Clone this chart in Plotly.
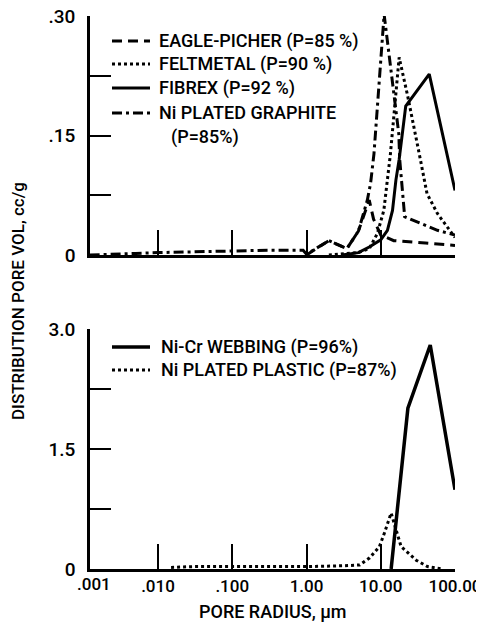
import plotly.graph_objects as go

# ---------------- data ----------------
# Top panel: distribution pore volume, cc/g vs pore radius (um)
eagle_x = [1.0, 2.0, 3.5, 5.0, 7.0, 8.0, 10.0, 15.0, 40.0, 100.0]
eagle_y = [0.0, 0.018, 0.008, 0.030, 0.069, 0.045, 0.025, 0.018, 0.015, 0.012]

felt_x = [2.0, 5.0, 7.0, 9.0, 11.0, 13.5, 17.7, 23.0, 33.0, 42.0, 58.0, 84.0, 100.0]
felt_y = [0.0, 0.003, 0.008, 0.027, 0.056, 0.127, 0.248, 0.200, 0.127, 0.077, 0.052, 0.031, 0.022]

fibrex_x = [3.0, 5.0, 7.0, 10.0, 12.3, 14.4, 16.0, 17.7, 21.7, 45.0, 100.0]
fibrex_y = [0.0, 0.003, 0.010, 0.019, 0.031, 0.056, 0.094, 0.120, 0.187, 0.227, 0.081]

graph_x = [0.0012, 0.002, 0.005, 0.01, 0.03, 0.1, 0.3, 0.9, 1.0, 2.0, 3.5, 5.0, 6.6, 7.3, 8.1,
           11.1, 17.5, 18.0, 21.0, 58.0, 100.0]
graph_y = [0.0, 0.001, 0.002, 0.003, 0.004, 0.005, 0.006, 0.006, 0.001, 0.018, 0.008, 0.030,
           0.069, 0.090, 0.127, 0.302, 0.152, 0.120, 0.048, 0.031, 0.025]

# Bottom panel
nicr_x = [13.8, 23.2, 46.4, 100.0]
nicr_y = [0.0, 2.01, 2.80, 0.99]

plastic_x = [0.015, 0.03, 0.1, 0.3, 1.0, 3.0, 5.2, 7.1, 9.6, 11.2, 13.8, 16.1, 18.8, 30.0, 42.6, 68.0]
plastic_y = [0.02, 0.03, 0.03, 0.03, 0.03, 0.04, 0.05, 0.14, 0.28, 0.45, 0.70, 0.49, 0.28, 0.11, 0.03, 0.0]

top_names = ["EAGLE-PICHER (P=85 %)", "FELTMETAL (P=90 %)", "FIBREX (P=92 %)",
             "Ni PLATED GRAPHITE", "(P=85%)"]
bot_names = ["Ni-Cr WEBBING (P=96%)", "Ni PLATED PLASTIC (P=87%)"]

x_tickvals = [0.01, 0.1, 1, 10, 100]
x_ticktext = [".010", ".100", "1.00", "10.00", "100.00"]
x_first_label = ".001"
top_tickvals = [0, 0.075, 0.15, 0.225, 0.30]
top_ticktext = ["0", "", ".15", "", ".30"]
bot_tickvals = [0, 0.75, 1.5, 2.25, 3.0]
bot_ticktext = ["0", "", "1.5", "", "3.0"]
x_title = "PORE RADIUS, \u00b5m"
y_title = "DISTRIBUTION PORE VOL, cc/g"

# ---------------- layout helpers ----------------
FONT = "Roboto, Liberation Sans, DejaVu Sans, sans-serif"
OFF = 8  # page body margin of the html page
W, H = 484 - OFF, 624 - OFF


def px(x):
    return (x - OFF) / W


def py(y):
    return 1 - (y - OFF) / H


styles = {
    "eagle": dict(color="black", width=3, dash="10px,6px"),
    "felt": dict(color="black", width=3, dash="3px,3px"),
    "fibrex": dict(color="black", width=3),
    "graph": dict(color="black", width=3, dash="10px,4px,3px,4px"),
    "nicr": dict(color="black", width=3.5),
    "plastic": dict(color="black", width=3, dash="3px,3px"),
}

fig = go.Figure()
fig.add_trace(go.Scatter(x=eagle_x, y=eagle_y, mode="lines", line=styles["eagle"], xaxis="x", yaxis="y"))
fig.add_trace(go.Scatter(x=felt_x, y=felt_y, mode="lines", line=styles["felt"], xaxis="x", yaxis="y"))
fig.add_trace(go.Scatter(x=fibrex_x, y=fibrex_y, mode="lines", line=styles["fibrex"], xaxis="x", yaxis="y"))
fig.add_trace(go.Scatter(x=graph_x, y=graph_y, mode="lines", line=styles["graph"], xaxis="x", yaxis="y"))
fig.add_trace(go.Scatter(x=nicr_x, y=nicr_y, mode="lines", line=styles["nicr"], xaxis="x2", yaxis="y2"))
fig.add_trace(go.Scatter(x=plastic_x, y=plastic_y, mode="lines", line=styles["plastic"], xaxis="x2", yaxis="y2"))

xlog0 = -2.916
x_common = dict(type="log", range=[xlog0, 2.0], domain=[px(90), px(455)], automargin=False,
                showline=True, linecolor="black", linewidth=2.5, ticklabeloverflow="allow",
                ticks="inside", ticklen=25, tickwidth=2, tickcolor="black",
                tickvals=x_tickvals, showgrid=False, zeroline=False)
y_common = dict(showline=True, linecolor="black", linewidth=2.5, automargin=False,
                ticklabeloverflow="allow",
                ticks="inside", ticklen=21, tickwidth=2, tickcolor="black",
                showgrid=False, zeroline=False, ticklabelstandoff=8,
                tickfont=dict(family=FONT, size=19, color="black", weight=500))

fig.update_layout(
    width=W, height=H, paper_bgcolor="white", plot_bgcolor="white",
    margin=dict(l=0, r=0, t=0, b=0, autoexpand=False),
    font=dict(family=FONT, color="black", size=18),
    showlegend=False,
    xaxis=dict(**x_common, anchor="y", showticklabels=False),
    yaxis=dict(**y_common, range=[0, 0.30], domain=[py(255), py(16)], anchor="x",
               tickvals=top_tickvals, ticktext=top_ticktext),
    xaxis2=dict(**x_common, anchor="y2", ticktext=x_ticktext, ticklabelstandoff=0,
                tickfont=dict(family=FONT, size=17, color="black", weight=500)),
    yaxis2=dict(**y_common, range=[0, 3.0], domain=[py(569), py(329)], anchor="x2",
                tickvals=bot_tickvals, ticktext=bot_ticktext),
)

# manual legends
leg_font = dict(family=FONT, size=18, color="black", weight=500)
top_rows = [41, 64, 88, 113]
for key, name, yy in zip(["eagle", "felt", "fibrex", "graph"], top_names[:4], top_rows):
    fig.add_shape(type="line", xref="paper", yref="paper", x0=px(112), x1=px(150), y0=py(yy), y1=py(yy),
                  line=styles[key])
    fig.add_annotation(text=name, xref="paper", yref="paper", x=px(157), y=py(yy), xanchor="left",
                       yanchor="middle", showarrow=False, font=leg_font)
fig.add_annotation(text=top_names[4], xref="paper", yref="paper", x=px(169), y=py(137), xanchor="left",
                   yanchor="middle", showarrow=False, font=leg_font)

bot_rows = [347, 370]
for key, name, yy in zip(["nicr", "plastic"], bot_names, bot_rows):
    fig.add_shape(type="line", xref="paper", yref="paper", x0=px(112), x1=px(150), y0=py(yy), y1=py(yy),
                  line=styles[key])
    fig.add_annotation(text=name, xref="paper", yref="paper", x=px(159), y=py(yy), xanchor="left",
                       yanchor="middle", showarrow=False, font=leg_font)

fig.add_annotation(text=x_first_label, xref="x2", yref="paper", x=xlog0, y=py(572),
                   xanchor="center", yanchor="top", xshift=4, showarrow=False,
                   font=dict(family=FONT, size=17, color="black", weight=500))
fig.add_annotation(text=x_title, xref="paper", yref="paper", x=px(273), y=py(611),
                   xanchor="center", yanchor="middle", showarrow=False,
                   font=dict(family=FONT, size=18, color="black", weight=500))
fig.add_annotation(text=y_title, xref="paper", yref="paper", x=px(18), y=py(301),
                   xanchor="center", yanchor="middle", textangle=-90, showarrow=False,
                   font=dict(family=FONT, size=17, color="black", weight=500))

fig.write_html("out.html")
